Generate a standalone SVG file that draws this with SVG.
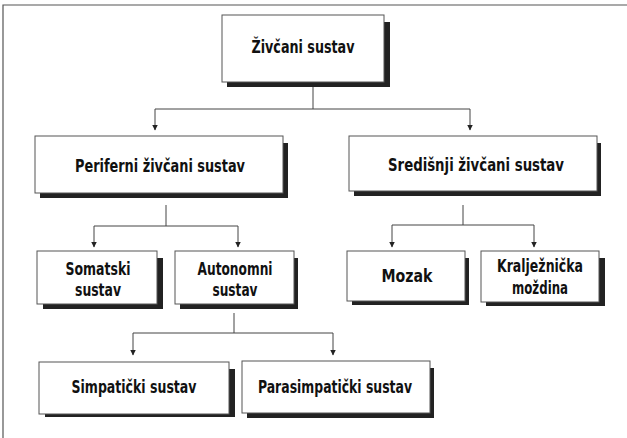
<svg xmlns="http://www.w3.org/2000/svg" width="627" height="438" viewBox="0 0 627 438">
<style>
.box{fill:#fff;stroke:#555;stroke-width:1}
.sh{fill:#222}
.t{font-family:"Liberation Sans Narrow","DejaVu Sans Condensed","Liberation Sans",sans-serif;font-weight:bold;font-size:17px;fill:#111;text-anchor:middle}
.c{fill:none;stroke:#444;stroke-width:1}
.frame{fill:none;stroke:#555;stroke-width:1.2}
</style>
<defs>
<marker id="ah" markerWidth="6" markerHeight="7" refX="5.5" refY="3" orient="auto" markerUnits="userSpaceOnUse">
<path d="M0,0 L6,3 L0,6 Z" fill="#222"/>
</marker>
</defs>
<rect width="627" height="438" fill="#fff"/>
<path class="frame" d="M3,438 V5 H627"/>

<g id="connectors">
<path class="c" d="M313,87 V109 H155 V130" marker-end="url(#ah)"/>
<path class="c" d="M313,109 H470 V130" marker-end="url(#ah)"/>
<path class="c" d="M166,205 V226 H94 V247" marker-end="url(#ah)"/>
<path class="c" d="M166,226 H238 V247" marker-end="url(#ah)"/>
<path class="c" d="M463,205 V225 H392 V247" marker-end="url(#ah)"/>
<path class="c" d="M463,225 H534 V247" marker-end="url(#ah)"/>
<path class="c" d="M234,313 V333 H133 V355" marker-end="url(#ah)"/>
<path class="c" d="M234,333 H333 V355" marker-end="url(#ah)"/>
</g>

<g id="zivcani-sustav">
<rect class="sh" x="227" y="22" width="163" height="65"/>
<rect class="box" x="222" y="15" width="162" height="67"/>
<text class="t" x="303" y="53" textLength="103" lengthAdjust="spacingAndGlyphs">Živčani sustav</text>
</g>

<g id="periferni">
<rect class="sh" x="40" y="143" width="248" height="55"/>
<rect class="box" x="35" y="136" width="248" height="57"/>
<text class="t" x="160" y="172" textLength="170" lengthAdjust="spacingAndGlyphs">Periferni živčani sustav</text>
</g>

<g id="sredisnji">
<rect class="sh" x="354" y="143" width="247" height="53"/>
<rect class="box" x="349" y="136" width="248" height="55"/>
<text class="t" x="476" y="171" textLength="176" lengthAdjust="spacingAndGlyphs">Središnji živčani sustav</text>
</g>

<g id="somatski">
<rect class="sh" x="43" y="258" width="120" height="51"/>
<rect class="box" x="37" y="251" width="120" height="53"/>
<text class="t" x="98" y="275" textLength="65" lengthAdjust="spacingAndGlyphs">Somatski</text>
<text class="t" x="98" y="296" textLength="46" lengthAdjust="spacingAndGlyphs">sustav</text>
</g>

<g id="autonomni">
<rect class="sh" x="180" y="258" width="118" height="51"/>
<rect class="box" x="175" y="251" width="119" height="53"/>
<text class="t" x="235" y="275" textLength="75" lengthAdjust="spacingAndGlyphs">Autonomni</text>
<text class="t" x="235" y="296" textLength="45" lengthAdjust="spacingAndGlyphs">sustav</text>
</g>

<g id="mozak">
<rect class="sh" x="352" y="258" width="117" height="47"/>
<rect class="box" x="347" y="251" width="118" height="50"/>
<text class="t" x="407" y="282" textLength="51" lengthAdjust="spacingAndGlyphs">Mozak</text>
</g>

<g id="kraljeznicka">
<rect class="sh" x="486" y="258" width="119" height="48"/>
<rect class="box" x="481" y="251" width="118" height="51"/>
<text class="t" x="540" y="272" textLength="86" lengthAdjust="spacingAndGlyphs">Kralježnička</text>
<text class="t" x="540" y="294" textLength="56" lengthAdjust="spacingAndGlyphs">moždina</text>
</g>

<g id="simpaticki">
<rect class="sh" x="45" y="369" width="190" height="48"/>
<rect class="box" x="39" y="362" width="190" height="52"/>
<text class="t" x="134" y="393" textLength="125" lengthAdjust="spacingAndGlyphs">Simpatički sustav</text>
</g>

<g id="parasimpaticki">
<rect class="sh" x="247" y="368" width="187" height="50"/>
<rect class="box" x="242" y="361" width="188" height="52"/>
<text class="t" x="335" y="393" textLength="154" lengthAdjust="spacingAndGlyphs">Parasimpatički sustav</text>
</g>
</svg>
